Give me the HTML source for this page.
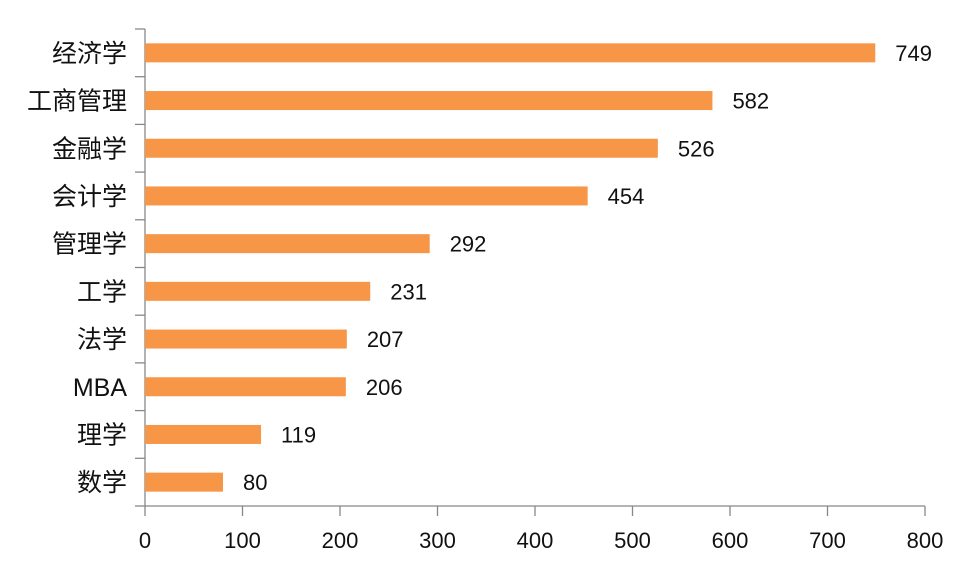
<!DOCTYPE html>
<html><head><meta charset="utf-8"><style>
body{margin:0;background:#fff}
svg text{font-family:"Liberation Sans","Noto Sans CJK SC",sans-serif;fill:#111}
</style></head><body>
<svg id="chart" width="960" height="576" xmlns="http://www.w3.org/2000/svg"></svg>
<script>
const categories=["经济学","工商管理","金融学","会计学","管理学","工学","法学","MBA","理学","数学"];
const values=[749,582,526,454,292,231,207,206,119,80];
const ticks=[0,100,200,300,400,500,600,700,800];
const svg=document.getElementById('chart');
const NS="http://www.w3.org/2000/svg";
const x0=145,x1=925,yTop=29,yBot=506,xMax=800;
const xs=v=>x0+(v/xMax)*(x1-x0);
const band=(yBot-yTop)/categories.length;
const yc=i=>yTop+band*(i+0.5);
function mk(t,a){const e=document.createElementNS(NS,t);for(const k in a)e.setAttribute(k,a[k]);svg.appendChild(e);return e;}
let ax=mk('line',{x1:x0,y1:yTop,x2:x0,y2:yBot,stroke:'#888','stroke-width':1.3});


let axx=mk('line',{x1:x0,y1:yBot,x2:x1,y2:yBot,stroke:'#888','stroke-width':1.3});


for(let i=0;i<=categories.length;i++){
 const y=yTop+band*i;
 const t=mk('line',{x1:x0-10,y1:y,x2:x0,y2:y,stroke:'#888','stroke-width':1.3});
 
 
}
ticks.forEach(v=>{
 const t=mk('line',{x1:xs(v),y1:yBot,x2:xs(v),y2:yBot+10,stroke:'#888','stroke-width':1.3});
 
 
 const l=mk('text',{x:xs(v),y:548,'text-anchor':'middle','font-size':22});
 l.textContent=v;
 
 
});
categories.forEach((c,i)=>{
 const y=yc(i);
 const b=mk('rect',{x:x0,y:y-9.5,width:xs(values[i])-x0,height:19,fill:'#f79646'});
 
 
 const l=mk('text',{x:127,y:y+9,'text-anchor':'end','font-size':25});
 l.textContent=c;
 
 
 const v=mk('text',{x:xs(values[i])+20,y:y+8,'font-size':22});
 v.textContent=values[i];
 
 
});
</script>
</body></html>
